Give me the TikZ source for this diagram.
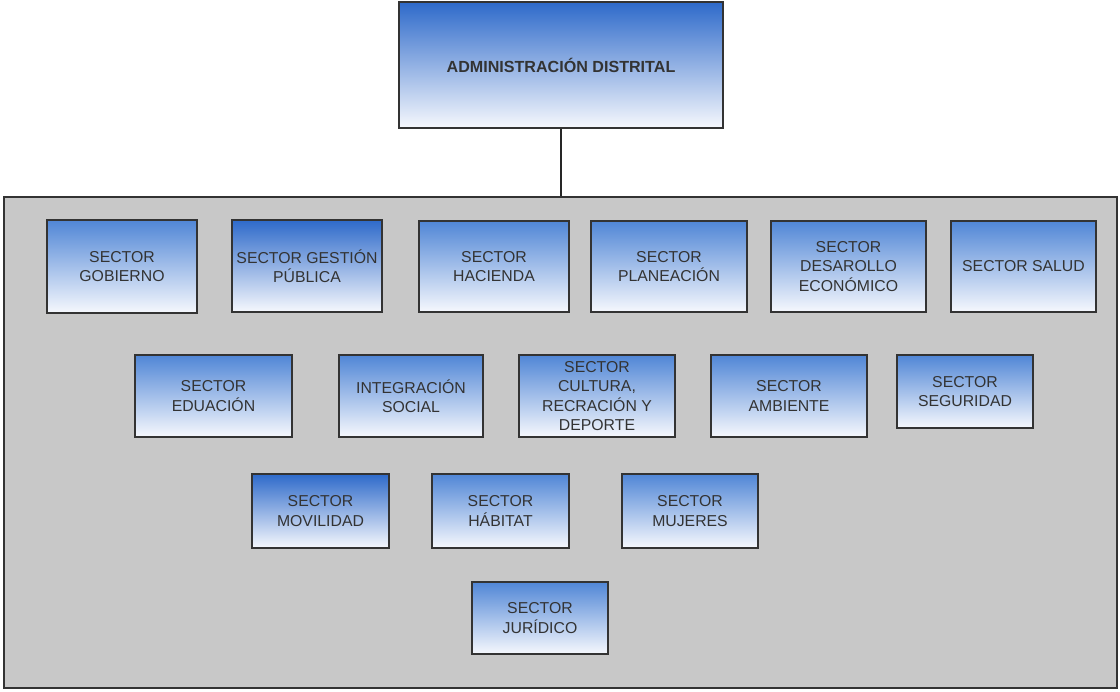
\documentclass[tikz,border=0pt]{standalone}
\usepackage{fontspec}
\setmainfont{Liberation Sans}
\begin{document}
\begin{tikzpicture}[x=1pt,y=-1pt,
  boxline/.style={draw=black!80, line width=1.2pt},
  unit/.style={boxline, inner sep=0pt, align=center, text=black!80,
    font=\fontsize{15.8}{19.2}\selectfont},
  lightunit/.style={unit, top color={rgb,255:red,80;green,134;blue,214}, bottom color={rgb,255:red,246;green,248;blue,253}},
  darkunit/.style={unit, top color={rgb,255:red,46;green,106;blue,202}, bottom color={rgb,255:red,246;green,248;blue,253}},
]
\definecolor{panelgray}{RGB}{200,200,200}
\useasboundingbox (0,0) rectangle (1120,692);

% helper: box from corners (x1,y1)-(x2,y2)
\newcommand{\unitbox}[7]{%
  \node[#1, minimum width={#4-#2}, minimum height={#5-#3}] (#6)
    at ({(#2+#4)/2},{(#3+#5)/2}) {#7};}

% sector panel
\node[boxline, fill=panelgray, inner sep=0pt, minimum width=1113, minimum height=491]
  (panel) at (560.5,442.5) {};

% head office
\unitbox{darkunit, font=\bfseries\fontsize{16.1}{19}\selectfont}{399}{2}{723}{128}{admin}{ADMINISTRACIÓN DISTRITAL}
\draw[line width=1.2pt, draw=black!85] (admin.south) -- (admin.south |- panel.north);

% first row
\unitbox{lightunit}{47}{220}{197}{313}{gob}{SECTOR\\GOBIERNO}
\unitbox{darkunit}{232}{220}{382}{312}{gest}{SECTOR GESTIÓN\\PÚBLICA}
\unitbox{lightunit}{419}{221}{569}{312}{hac}{SECTOR\\HACIENDA}
\unitbox{lightunit}{591}{221}{747}{312}{plan}{SECTOR\\PLANEACIÓN}
\unitbox{lightunit}{771}{221}{926}{312}{des}{SECTOR\\DESAROLLO\\ECONÓMICO}
\unitbox{lightunit}{951}{221}{1096}{312}{sal}{SECTOR SALUD}

% second row
\unitbox{lightunit}{135}{355}{292}{437}{edu}{SECTOR\\EDUACIÓN}
\unitbox{lightunit}{339}{355}{483}{437}{integ}{INTEGRACIÓN\\SOCIAL}
\unitbox{lightunit}{519}{355}{675}{437}{cult}{SECTOR\\CULTURA,\\RECRACIÓN Y\\DEPORTE}
\unitbox{lightunit}{711}{355}{867}{437}{amb}{SECTOR\\AMBIENTE}
\unitbox{lightunit}{897}{355}{1033}{428}{seg}{SECTOR\\SEGURIDAD}

% third row
\unitbox{darkunit}{252}{474}{389}{548}{mov}{SECTOR\\MOVILIDAD}
\unitbox{lightunit}{432}{474}{569}{548}{hab}{SECTOR\\HÁBITAT}
\unitbox{lightunit}{622}{474}{758}{548}{muj}{SECTOR\\MUJERES}

% fourth row
\unitbox{lightunit}{472}{582}{608}{654}{jur}{SECTOR\\JURÍDICO}
\end{tikzpicture}
\end{document}
